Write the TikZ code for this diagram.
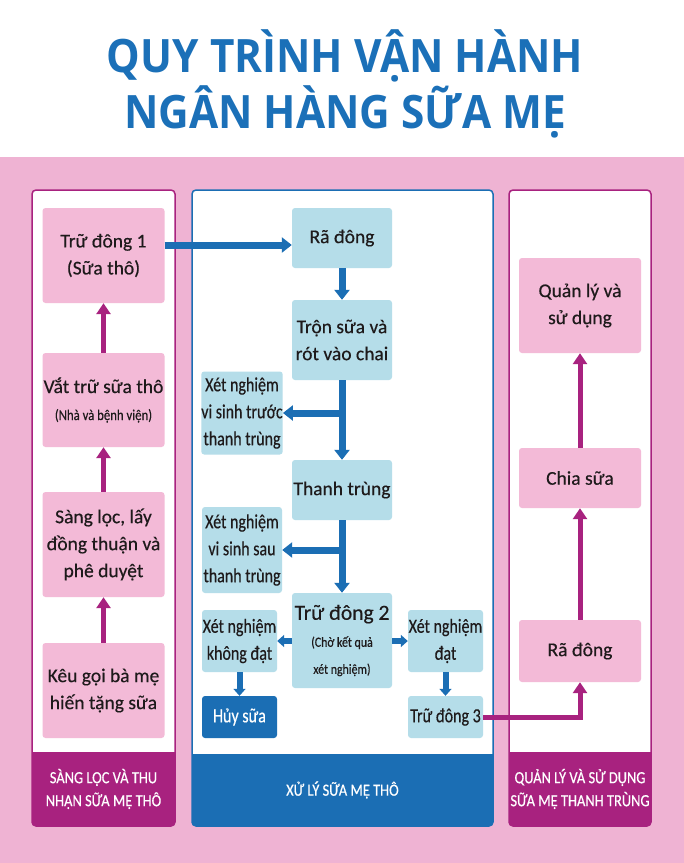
\documentclass[tikz,border=0pt]{standalone}
\usepackage{fontspec}
\setmainfont{Carlito}[FakeBold=0.4]
\newfontfamily\narrowfont{Carlito}[FakeStretch=0.85, FakeBold=0.4]
\newfontfamily\tightfont{Carlito}[FakeStretch=0.8, FakeBold=0.4]
\newfontfamily\titlefont{Open Sans}[FakeStretch=0.92]
\usetikzlibrary{arrows.meta}

\definecolor{titleblue}{HTML}{1B70B8}
\definecolor{bgpink}{HTML}{EFB3D3}
\definecolor{boxpink}{HTML}{F3BAD7}
\definecolor{boxblue}{HTML}{B5DDE9}
\definecolor{darkblue}{HTML}{1B6EB4}
\definecolor{mauve}{HTML}{A8227F}
\definecolor{ink}{HTML}{1E1A1B}

\tikzset{
  pinkbox/.style={fill=boxpink, rounded corners=3pt, align=center, text=ink, inner sep=0pt,
    font=\fontsize{19.5}{27}\selectfont},
  bluebox/.style={fill=boxblue, rounded corners=3pt, align=center, text=ink, inner sep=0pt,
    font=\fontsize{19.5}{27}\selectfont},
  testbox/.style={bluebox, font=\tightfont\fontsize{20}{27}\selectfont},
  purplearrow/.style={draw=mauve, line width=5pt, -{Triangle[width=14pt,length=11pt]}},
  bluearrow/.style={draw=darkblue, line width=7pt, -{Triangle[width=15pt,length=10pt]}},
  smallarrow/.style={draw=darkblue, line width=6pt, -{Triangle[width=12pt,length=7pt]}},
  labeltext/.style={text=white, align=center, font=\narrowfont\fontsize{17}{23}\selectfont}
}

\begin{document}
\begin{tikzpicture}[x=1pt,y=-1pt]
\useasboundingbox (0,0) rectangle (684,863);
\fill[white] (0,0) rectangle (684,157);
\fill[bgpink] (0,157) rectangle (684,863);

% Title
\node[text=titleblue, font=\titlefont\bfseries\fontsize{46}{52}\selectfont] (title1) at (345,56) {QUY TRÌNH VẬN HÀNH};
\node[text=titleblue, font=\titlefont\bfseries\fontsize{46}{52}\selectfont] (title2) at (345,112) {NGÂN HÀNG SỮA MẸ};

% Panels
\filldraw[fill=white, draw=mauve, line width=1.5pt, rounded corners=4pt] (32,190) rectangle (175,826);
\filldraw[fill=white, draw=darkblue, line width=1.5pt, rounded corners=4pt] (192,190) rectangle (493,826);
\filldraw[fill=white, draw=mauve, line width=1.5pt, rounded corners=4pt] (509,190) rectangle (651,826);
\begin{scope}
  \clip[rounded corners=4pt] (32,190) rectangle (175,826);
  \fill[mauve] (32,752) rectangle (175,826);
\end{scope}
\begin{scope}
  \clip[rounded corners=4pt] (192,190) rectangle (493,826);
  \fill[darkblue] (192,754) rectangle (493,826);
\end{scope}
\begin{scope}
  \clip[rounded corners=4pt] (509,190) rectangle (651,826);
  \fill[mauve] (509,752) rectangle (651,826);
\end{scope}

\node[labeltext] (lab1) at (103.5,789) {SÀNG LỌC VÀ THU\\NHẬN SỮA MẸ THÔ};
\node[labeltext] (lab2) at (342.5,790) {XỬ LÝ SỮA MẸ THÔ};
\node[labeltext] (lab3) at (580,789) {QUẢN LÝ VÀ SỬ DỤNG\\SỮA MẸ THANH TRÙNG};

% Left column
\node[pinkbox, minimum width=122pt, minimum height=95pt] (td1) at (103.5,255.5) {Trữ đông 1\\(Sữa thô)};
\node[pinkbox, minimum width=122pt, minimum height=94pt] (vat) at (103.5,400) {Vắt trữ sữa thô\\{\narrowfont\fontsize{15}{20}\selectfont(Nhà và bệnh viện)}};
\node[pinkbox, minimum width=122pt, minimum height=105pt] (sang) at (103.5,544.5) {Sàng lọc, lấy\\đồng thuận và\\phê duyệt};
\node[pinkbox, minimum width=122pt, minimum height=95pt] (keu) at (103.5,690.5) {Kêu gọi bà mẹ\\hiến tặng sữa};

% Middle column
\node[bluebox, minimum width=100pt, minimum height=60pt] (rad) at (342,238) {Rã đông};
\node[bluebox, minimum width=100pt, minimum height=80pt] (tron) at (342,340) {Trộn sữa và\\rót vào chai};
\node[testbox, minimum width=80pt, minimum height=83pt] (xnt) at (242,413) {Xét nghiệm\\vi sinh trước\\thanh trùng};
\node[bluebox, minimum width=100pt, minimum height=60pt] (than) at (342,490) {Thanh trùng};
\node[testbox, minimum width=80pt, minimum height=86pt] (xns) at (242,550) {Xét nghiệm\\vi sinh sau\\thanh trùng};
\node[bluebox, minimum width=100pt, minimum height=95pt] (td2) at (342,640.5) {{\fontsize{21.5}{27}\selectfont Trữ đông 2}\\{\narrowfont\fontsize{14}{18}\selectfont(Chờ kết quả}\\{\narrowfont\fontsize{14}{18}\selectfont xét nghiệm)}};
\node[testbox, minimum width=75pt, minimum height=62pt] (xkd) at (239.5,641) {Xét nghiệm\\không đạt};
\node[testbox, fill=darkblue, text=white, minimum width=75pt, minimum height=42pt] (huy) at (239.5,717) {Hủy sữa};
\node[testbox, minimum width=75pt, minimum height=62pt] (xd) at (445.5,641) {Xét nghiệm\\đạt};
\node[testbox, minimum width=75pt, minimum height=42pt] (td3) at (445.5,717) {Trữ đông 3};

% Right column
\node[pinkbox, minimum width=122pt, minimum height=95pt] (ql) at (580,305.5) {Quản lý và\\sử dụng};
\node[pinkbox, minimum width=122pt, minimum height=60pt] (chia) at (580,478) {Chia sữa};
\node[pinkbox, minimum width=122pt, minimum height=62pt] (rdr) at (580,651) {Rã đông};

% Arrows
\draw[purplearrow] (keu) -- (sang);
\draw[purplearrow] (sang) -- (vat);
\draw[purplearrow] (vat) -- (td1);

\coordinate (radin) at ([yshift=-7pt]rad.west);
\draw[bluearrow] (td1.east |- radin) -- (radin);
\draw[bluearrow] (rad) -- (tron);
\draw[bluearrow] (tron) -- (than);
\draw[bluearrow] (tron.south |- xnt.east) -- (xnt.east);
\draw[bluearrow] (than) -- (td2);
\draw[bluearrow] (than.south |- xns.east) -- (xns.east);
\draw[smallarrow] (td2.west |- xkd.east) -- (xkd.east);
\draw[smallarrow] (td2.east |- xd.west) -- (xd.west);
\draw[smallarrow] (xkd) -- (huy);
\draw[smallarrow] (xd) -- (td3);

\draw[purplearrow] (td3.east) -| (rdr.south);
\draw[purplearrow] (rdr) -- (chia);
\draw[purplearrow] (chia) -- (ql);
\end{tikzpicture}
\end{document}
